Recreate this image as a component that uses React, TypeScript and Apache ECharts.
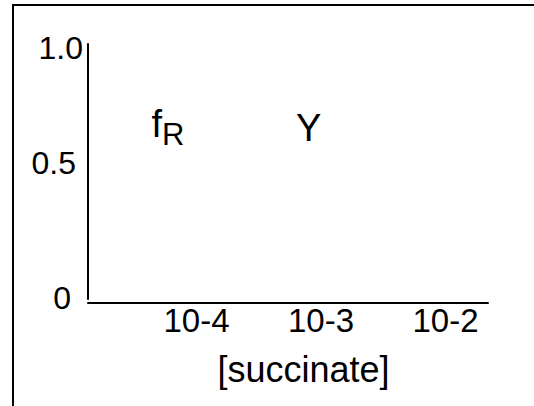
import React, { useEffect, useRef } from 'react';
import * as echarts from 'echarts';

const xTickValues = [-4, -3, -2];
const xTickLabels = ['10-4', '10-3', '10-2'];
const yTickValues = [0, 0.5, 1];
const yTickLabels = ['0', '0.5', '1.0'];
const xAxisName = '[succinate]';
const annotationMain = ['f', 'Y'];
const annotationSub = ['R', ''];
const annotationX = [-4.229, -3.1];
const annotationY = [0.688, 0.669];

const FONT = 'Liberation Sans, Arial, Helvetica, sans-serif';

export default function App() {
  const ref = useRef<HTMLDivElement>(null);

  useEffect(() => {
    document.body.style.margin = '0';
    if (!ref.current) return;
    const chart = echarts.init(ref.current, null, { renderer: 'svg' });

    const yRich: Record<string, any> = {
      y0: { fontSize: 32, fontFamily: FONT, color: '#000', padding: [0, 12, 3, 0] },
      y1: { fontSize: 32, fontFamily: FONT, color: '#000', padding: [0, 7, 18, 0] },
      y2: { fontSize: 32, fontFamily: FONT, color: '#000', padding: [7, 0, 0, 0] },
    };

    const option: any = {
      animation: false,
      backgroundColor: '#fff',
      grid: { left: 88, right: 46, top: 44, bottom: 107, containLabel: false },
      xAxis: {
        type: 'value',
        min: -4.871,
        max: -1.659,
        offset: 3.5,
        name: xAxisName,
        nameLocation: 'middle',
        nameGap: 48.5,
        nameTextStyle: {
          fontSize: 36,
          fontFamily: FONT,
          color: '#000',
          padding: [0, 0, 0, 31],
        },
        axisLine: { show: true, onZero: false, lineStyle: { color: '#000', width: 2 } },
        axisTick: { show: false },
        splitLine: { show: false },
        axisLabel: {
          customValues: xTickValues,
          margin: 1,
          fontSize: 33,
          fontFamily: FONT,
          color: '#000',
          formatter: (v: number) => {
            const i = xTickValues.findIndex((t) => Math.abs(t - v) < 1e-6);
            return i >= 0 ? xTickLabels[i] : '';
          },
        },
      },
      yAxis: {
        type: 'value',
        min: 0,
        max: 1,
        axisLine: { show: true, onZero: false, lineStyle: { color: '#000', width: 2 } },
        axisTick: { show: false },
        splitLine: { show: false },
        axisLabel: {
          customValues: yTickValues,
          margin: 5,
          fontSize: 32,
          fontFamily: FONT,
          color: '#000',
          rich: yRich,
          formatter: (v: number) => {
            const i = yTickValues.findIndex((t) => Math.abs(t - v) < 1e-6);
            return i >= 0 ? `{y${i}|${yTickLabels[i]}}` : '';
          },
        },
      },
      graphic: [
        {
          type: 'rect',
          silent: true,
          shape: { x: 13, y: 5, width: 800, height: 800 },
          style: { fill: 'none', stroke: '#000', lineWidth: 2 },
        },
      ],
      series: [
        {
          type: 'scatter',
          silent: true,
          symbolSize: 0,
          itemStyle: { color: '#000', opacity: 1 },
          data: annotationMain.map((m, i) => ({
            value: [annotationX[i], annotationY[i]],
            name: m,
          })),
          label: {
            show: true,
            position: 'inside',
            align: 'center',
            verticalAlign: 'middle',
            color: '#000',
            opacity: 1,
            textBorderWidth: 0,
            textBorderColor: 'transparent',
            formatter: (p: any) => {
              const i = p.dataIndex;
              return annotationSub[i]
                ? `{m|${annotationMain[i]}}{s|${annotationSub[i]}}`
                : `{m|${annotationMain[i]}}`;
            },
            rich: {
              m: { fontSize: 38, fontFamily: FONT, color: '#000', textBorderWidth: 0 },
              s: {
                fontSize: 31,
                fontFamily: FONT,
                color: '#000',
                textBorderWidth: 0,
                padding: [22, 0, 0, 0],
              },
            },
          },
          emphasis: { disabled: true },
        },
      ],
    };

    chart.setOption(option);
    return () => chart.dispose();
  }, []);

  return <div ref={ref} style={{ width: 534, height: 406 }} />;
}
